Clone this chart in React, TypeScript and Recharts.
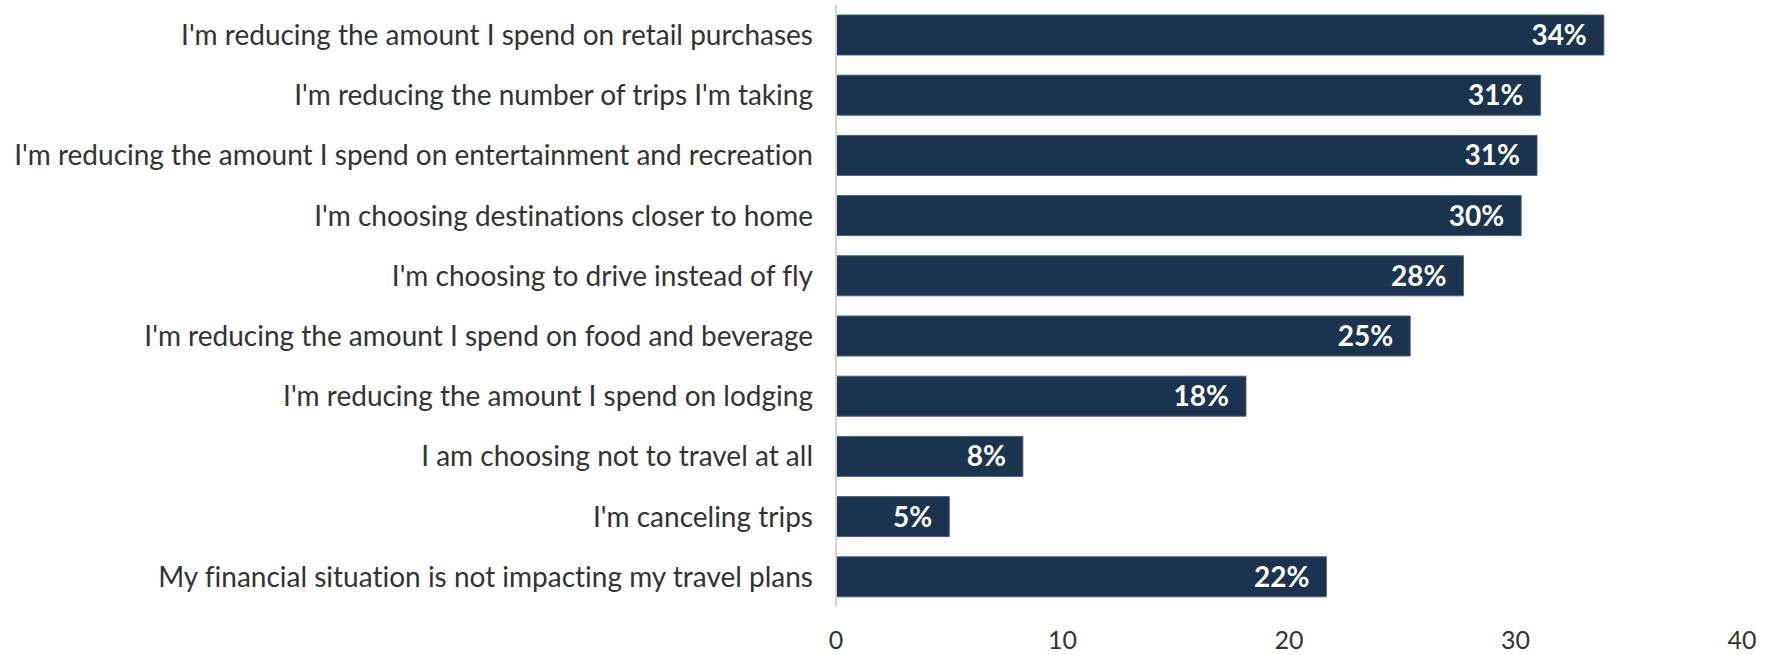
import { BarChart, Bar, XAxis, YAxis, LabelList } from "recharts";

const categories = [
  "I'm reducing the amount I spend on retail purchases",
  "I'm reducing the number of trips I'm taking",
  "I'm reducing the amount I spend on entertainment and recreation",
  "I'm choosing destinations closer to home",
  "I'm choosing to drive instead of fly",
  "I'm reducing the amount I spend on food and beverage",
  "I'm reducing the amount I spend on lodging",
  "I am choosing not to travel at all",
  "I'm canceling trips",
  "My financial situation is not impacting my travel plans",
];

const shares = [33.9, 31.1, 30.95, 30.25, 27.7, 25.35, 18.1, 8.25, 5.0, 21.65];

const xTicks = [0, 10, 20, 30, 40];

const data = categories.map((label, i) => ({ label, share: shares[i] }));

const font = "Lato, 'Noto Sans', sans-serif";

export default function App() {
  return (
    <div
      style={{
        position: "absolute",
        left: 0,
        top: 0,
        fontFamily: font,
        fontVariantLigatures: "none",
      }}
    >
      <BarChart
        width={1771}
        height={655}
        data={data}
        layout="vertical"
        margin={{ top: 5, right: 29, left: 0, bottom: 0 }}
      >
        <XAxis
          type="number"
          domain={[0, 40]}
          ticks={xTicks}
          axisLine={false}
          tickLine={false}
          tickSize={0}
          tickMargin={24}
          height={48}
          tick={{ fill: "#333333", fontSize: 25, fontFamily: font }}
        />
        <YAxis
          type="category"
          dataKey="label"
          width={836}
          axisLine={{ stroke: "#d4d4d4", strokeWidth: 2 }}
          tickLine={false}
          tickSize={0}
          tickMargin={23}
          interval={0}
          tick={{ fill: "#333333", fontSize: 28, fontFamily: font }}
        />
        <Bar
          dataKey="share"
          fill="#1a334e"
          stroke="#4a5e77"
          strokeWidth={1}
          barSize={40}
          isAnimationActive={false}
        >
          <LabelList
            dataKey="share"
            position="insideRight"
            offset={17}
            formatter={(v: number) => `${Math.round(v)}%`}
            style={{ fill: "#ffffff", fontSize: 28, fontWeight: 700, fontFamily: font }}
          />
        </Bar>
      </BarChart>
    </div>
  );
}
